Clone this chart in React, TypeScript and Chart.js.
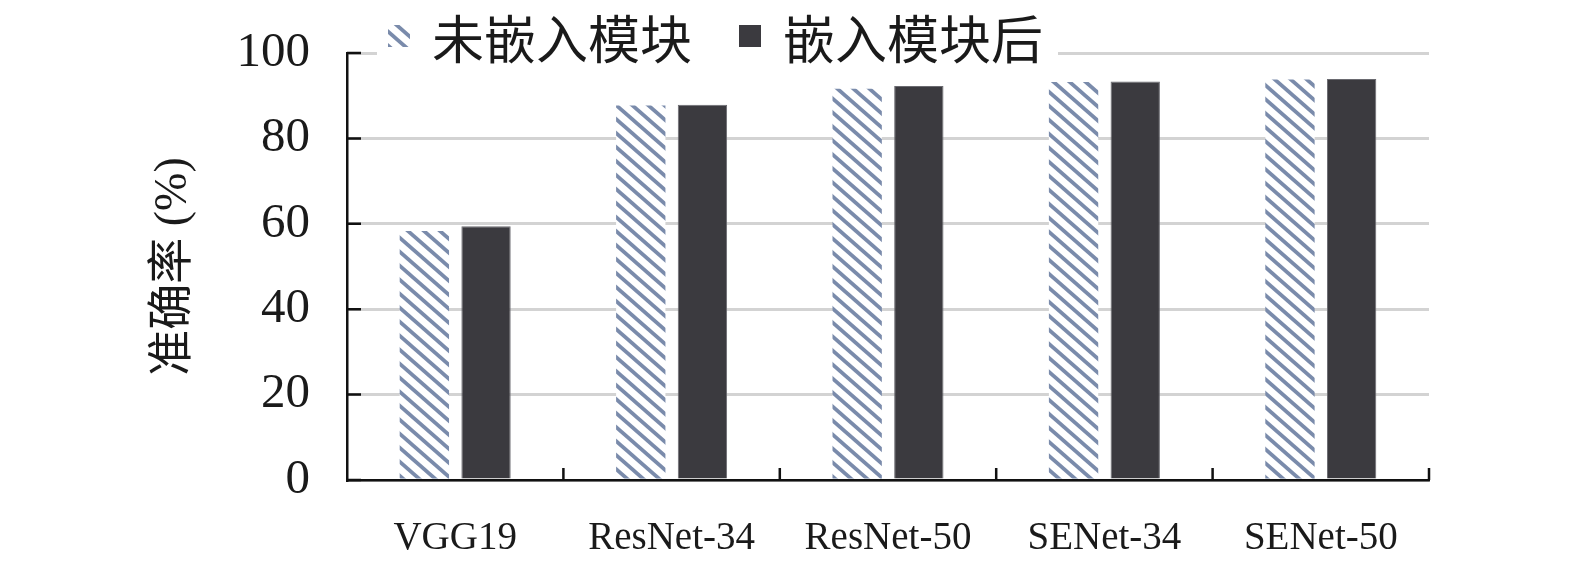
import React, { useEffect, useRef } from 'react';
import Chart from 'chart.js/auto';

const categories = ['VGG19', 'ResNet-34', 'ResNet-50', 'SENet-34', 'SENet-50'];
const seriesNames = ['未嵌入模块', '嵌入模块后'];
const beforeValues = [58.3, 87.7, 91.6, 93.2, 93.8];
const afterValues = [59.4, 87.9, 92.3, 93.3, 93.9];
const yTicks = [0, 20, 40, 60, 80, 100];

const serif = "'Liberation Serif', 'Times New Roman', serif";
const cjk = "'Liberation Serif', 'Noto Sans CJK SC', serif";
const hatchColor = '#7a8bab';
const darkColor = '#3b3a3f';

// diagonal "\\\" stripes used for the first series
function makeHatch(): CanvasPattern | string {
  const w = 16;
  const h = 14;
  const c = document.createElement('canvas');
  c.width = w;
  c.height = h;
  const g = c.getContext('2d');
  if (!g) return hatchColor;
  g.fillStyle = '#ffffff';
  g.fillRect(0, 0, w, h);
  g.strokeStyle = hatchColor;
  g.lineWidth = 3.8;
  for (const dx of [-w, 0, w]) {
    g.beginPath();
    g.moveTo(dx - w, -h);
    g.lineTo(dx + 2 * w, 2 * h);
    g.stroke();
  }
  return g.createPattern(c, 'repeat') || hatchColor;
}

// inward tick marks on both axes
const innerTicks = {
  id: 'innerTicks',
  afterDraw(chart: any) {
    const { ctx, chartArea, scales } = chart;
    const x = scales.x;
    const y = scales.y;
    ctx.save();
    ctx.strokeStyle = '#111';
    ctx.lineWidth = 2.5;
    ctx.beginPath();
    y.ticks.forEach((t: any) => {
      const py = y.getPixelForValue(t.value);
      ctx.moveTo(chartArea.left, py);
      ctx.lineTo(chartArea.left + 14, py);
    });
    for (let i = 1; i <= categories.length; i++) {
      const px = x.getPixelForValue(i - 0.5);
      ctx.moveTo(px, chartArea.bottom);
      ctx.lineTo(px, chartArea.bottom - 12);
    }
    ctx.stroke();
    ctx.restore();
  },
};

// legend sitting on top of the 100 gridline
const overlayLegend = {
  id: 'overlayLegend',
  afterDraw(chart: any) {
    const { ctx, chartArea } = chart;
    const box = 22;
    const gapText = 22;
    const gapItem = 47;
    const cy = chartArea.top - 16;
    let x = chartArea.left + 41;
    ctx.save();
    ctx.font = `52px ${cjk}`;
    ctx.textBaseline = 'middle';
    const items = chart.data.datasets.map((ds: any) => ({ text: ds.label, color: ds.backgroundColor }));
    let total = 0;
    items.forEach((it: any, i: number) => {
      total += box + gapText + ctx.measureText(it.text).width + (i < items.length - 1 ? gapItem : 0);
    });
    ctx.fillStyle = '#ffffff';
    ctx.fillRect(x - 11, chartArea.top - 6, total + 26, 12);
    items.forEach((it: any) => {
      ctx.fillStyle = it.color;
      ctx.fillRect(x, cy - 12, box, box);
      x += box + gapText;
      ctx.fillStyle = '#1a1a1a';
      ctx.fillText(it.text, x, cy + 8);
      x += ctx.measureText(it.text).width + gapItem;
    });
    ctx.restore();
  },
};

const App: React.FC = () => {
  const chartRef = useRef<HTMLCanvasElement>(null);
  const chartInstance = useRef<Chart | null>(null);

  useEffect(() => {
    document.body.style.margin = '0';
    if (!chartRef.current) return;
    if (chartInstance.current) chartInstance.current.destroy();
    const ctx = chartRef.current.getContext('2d');
    if (!ctx) return;

    chartInstance.current = new Chart(ctx, {
      type: 'bar',
      data: {
        labels: categories,
        datasets: [
          {
            label: seriesNames[0],
            data: beforeValues,
            backgroundColor: makeHatch() as any,
            borderWidth: 0,
          },
          {
            label: seriesNames[1],
            data: afterValues,
            backgroundColor: darkColor,
            borderColor: '#6a6a70',
            borderWidth: 1,
          },
        ],
      },
      options: {
        responsive: true,
        maintainAspectRatio: false,
        animation: false,
        layout: { padding: { top: 53, right: 146, left: 0, bottom: 0 } },
        datasets: { bar: { categoryPercentage: 0.57, barPercentage: 0.8 } },
        plugins: {
          legend: { display: false },
          tooltip: { enabled: false },
        },
        scales: {
          x: {
            grid: { display: false, drawTicks: false },
            border: { display: true, color: '#111', width: 2.5 },
            ticks: {
              color: '#1a1a1a',
              padding: 35,
              font: { family: serif, size: 39 },
              maxRotation: 0,
            },
            afterFit: (s: any) => {
              s.height = 85;
              s.paddingLeft = 0;
              s.paddingRight = 0;
            },
          },
          y: {
            min: 0,
            max: 100,
            afterBuildTicks: (s: any) => {
              s.ticks = yTicks.map((v) => ({ value: v }));
            },
            grid: { color: '#d3d3d3', lineWidth: 3, drawTicks: false },
            border: { display: true, color: '#111', width: 2.5 },
            ticks: {
              color: '#1a1a1a',
              padding: 37,
              font: { family: serif, size: 49 },
            },
            title: {
              display: true,
              text: '准确率 (%)',
              color: '#1a1a1a',
              font: { family: cjk, size: 46, lineHeight: 1.2 },
              padding: { top: 146, bottom: 0 },
            },
            afterFit: (s: any) => {
              s.width = 347;
              s.paddingTop = 0;
              s.paddingBottom = 0;
            },
          },
        },
      },
      plugins: [innerTicks, overlayLegend],
    });

    return () => {
      if (chartInstance.current) {
        chartInstance.current.destroy();
        chartInstance.current = null;
      }
    };
  }, []);

  return (
    <div style={{ width: 1575, height: 565, position: 'relative' }}>
      <canvas ref={chartRef} />
    </div>
  );
};

export default App;
